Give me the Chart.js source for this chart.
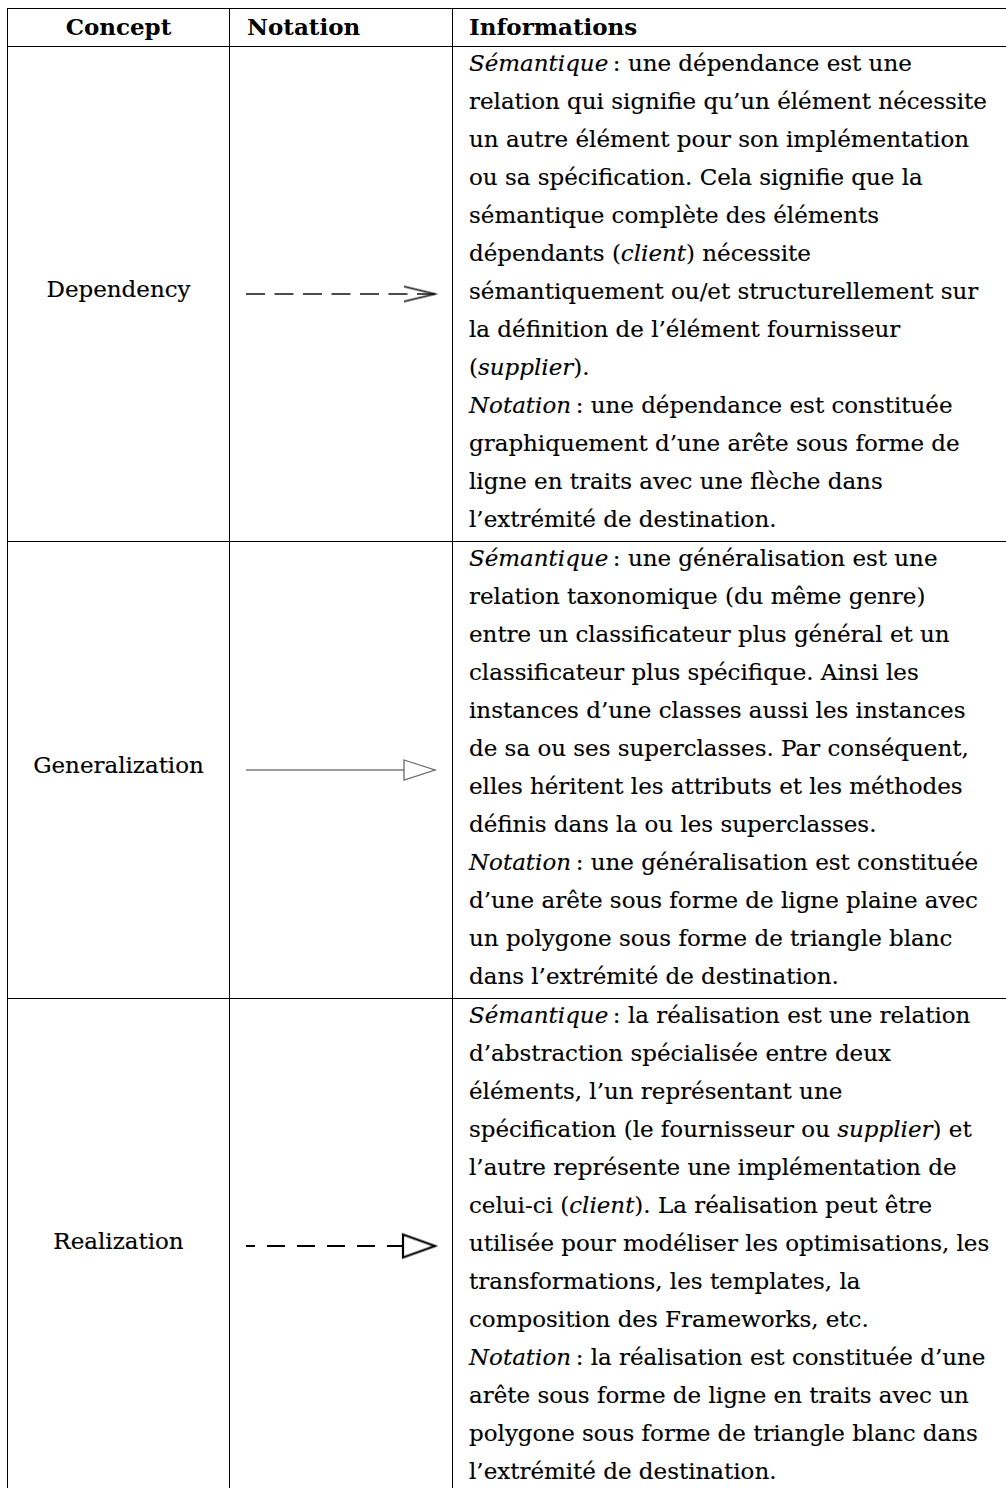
<!DOCTYPE html>
<html lang="fr"><head><meta charset="utf-8">
<title>Relations UML</title>
<script src="https://cdn.jsdelivr.net/npm/chart.js@4.4.1/dist/chart.umd.min.js"></script>
<style>
html,body{margin:0;padding:0;background:#fff;}
body{width:1006px;height:1488px;overflow:hidden;position:relative;font-family:"DejaVu Serif",serif;color:#000;}
.hl{position:absolute;height:1px;background:#000;left:7px;width:999px;}
.vl{position:absolute;width:1px;background:#000;top:8px;height:1480px;}
.txt{position:absolute;white-space:nowrap;line-height:38px;-webkit-text-stroke:0.15px #000;}
.hd{font-weight:bold;-webkit-text-stroke:0;}
.nc{position:absolute;}
.nc canvas{display:block;}
</style></head><body>
<script>
// ---- data ----
const headers = ['Concept', 'Notation', 'Informations'];
const concepts = ['Dependency', 'Generalization', 'Realization'];
const notationLine = ['dashed', 'solid', 'dashed'];
const notationHead = ['open', 'triangle', 'triangle'];
const arrowFrom = [0, 0, 0];
const arrowTo = [1, 1, 1];
const infoDependency = [
  '_Sémantique_\u2009: une dépendance est une',
  'relation qui signifie qu’un élément nécessite',
  'un autre élément pour son implémentation',
  'ou sa spécification. Cela signifie que la',
  'sémantique complète des éléments',
  'dépendants (_client_) nécessite',
  'sémantiquement ou/et structurellement sur',
  'la définition de l’élément fournisseur',
  '(_supplier_).',
  '_Notation_\u2009: une dépendance est constituée',
  'graphiquement d’une arête sous forme de',
  'ligne en traits avec une flèche dans',
  'l’extrémité de destination.'
];
const infoGeneralization = [
  '_Sémantique_\u2009: une généralisation est une',
  'relation taxonomique (du même genre)',
  'entre un classificateur plus général et un',
  'classificateur plus spécifique. Ainsi les',
  'instances d’une classes aussi les instances',
  'de sa ou ses superclasses. Par conséquent,',
  'elles héritent les attributs et les méthodes',
  'définis dans la ou les superclasses.',
  '_Notation_\u2009: une généralisation est constituée',
  'd’une arête sous forme de ligne plaine avec',
  'un polygone sous forme de triangle blanc',
  'dans l’extrémité de destination.'
];
const infoRealization = [
  '_Sémantique_\u2009: la réalisation est une relation',
  'd’abstraction spécialisée entre deux',
  'éléments, l’un représentant une',
  'spécification (le fournisseur ou _supplier_) et',
  'l’autre représente une implémentation de',
  'celui-ci (_client_). La réalisation peut être',
  'utilisée pour modéliser les optimisations, les',
  'transformations, les templates, la',
  'composition des Frameworks, etc.',
  '_Notation_\u2009: la réalisation est constituée d’une',
  'arête sous forme de ligne en traits avec un',
  'polygone sous forme de triangle blanc dans',
  'l’extrémité de destination.'
];
const infos = [infoDependency, infoGeneralization, infoRealization];

// ---- layout / style ----
const colX = [7, 229, 452];
const topY = 8, headerLineY = 46, lineH = 38;
const padL = 16, padR = 17;
const arrowStyles = [
  {color: '#111', width: 1.6, dash: [19, 9.5], dashOffset: 0, headColor: '#111', headWidth: 1.6, L: 31, H: 7.5},
  {color: '#7a7a7a', width: 1.4, dash: [], dashOffset: 0, headColor: '#6a6a6a', headWidth: 1.3, L: 31, H: 10},
  {color: '#000', width: 2.2, dash: [18, 12], dashOffset: 9, headColor: '#000', headWidth: 2.2, L: 32, H: 11.5}
];

// fit font size to reference line width
function measure(text, css) {
  const s = document.createElement('span');
  s.style.cssText = 'position:absolute;white-space:nowrap;visibility:hidden;' + css;
  s.textContent = text;
  document.body.appendChild(s);
  const w = s.getBoundingClientRect().width;
  s.remove();
  return w;
}
const w100 = measure('relation qui signifie qu’un élément nécessite', 'font-size:100px;font-family:"DejaVu Serif",serif;');
const fs = 100 * 518 / w100;
document.body.style.fontSize = fs + 'px';

function baselineIn(bold) {
  const d = document.createElement('div');
  d.className = 'txt' + (bold ? ' hd' : '');
  d.style.top = '0px'; d.style.left = '0px'; d.style.visibility = 'hidden';
  d.innerHTML = 'Xg<span style="display:inline-block;width:1px;height:0;vertical-align:baseline"></span>';
  document.body.appendChild(d);
  const off = d.querySelector('span').getBoundingClientRect().top - d.getBoundingClientRect().top;
  d.remove();
  return off;
}
const bl = baselineIn(false), blB = baselineIn(true);

function fmt(t) { return t.replace(/_([^_]+)_/g, '<em>$1</em>'); }
function addText(html, left, baseline, opts) {
  const d = document.createElement('div');
  d.className = 'txt' + (opts && opts.bold ? ' hd' : '');
  d.innerHTML = html;
  d.style.top = (baseline - (opts && opts.bold ? blB : bl)) + 'px';
  document.body.appendChild(d);
  if (opts && opts.center !== undefined) {
    const w = d.getBoundingClientRect().width;
    d.style.left = (opts.center - w / 2) + 'px';
  } else d.style.left = left + 'px';
  return d;
}
function hline(y) { const d = document.createElement('div'); d.className = 'hl'; d.style.top = y + 'px'; document.body.appendChild(d); }
function vline(x) { const d = document.createElement('div'); d.className = 'vl'; d.style.left = x + 'px'; document.body.appendChild(d); }

// grid
hline(topY); hline(headerLineY);
colX.forEach(vline);

// header
addText(headers[0], 0, 35, {bold: true, center: (colX[0] + colX[1] + 1) / 2});
addText(headers[1], colX[1] + 18, 35, {bold: true});
addText(headers[2], colX[2] + 17, 35, {bold: true});

function makeHead(kind, color, lw, L, H) {
  const pad = Math.ceil(lw * 4) + 2;
  const c = document.createElement('canvas');
  c.width = 2 * (L + pad); c.height = 2 * (H + pad);
  const g = c.getContext('2d');
  const cx = c.width / 2, cy = c.height / 2;
  g.lineWidth = lw; g.strokeStyle = color; g.lineJoin = 'miter';
  g.beginPath();
  g.moveTo(cx - L, cy - H); g.lineTo(cx, cy); g.lineTo(cx - L, cy + H);
  if (kind === 'triangle') { g.closePath(); g.fillStyle = '#fff'; g.fill(); }
  g.stroke();
  return c;
}

let rowStart = headerLineY + 1;
concepts.forEach((name, i) => {
  const lines = infos[i];
  const h = lines.length * lineH;
  const rowEnd = rowStart + h;
  hline(rowEnd);
  // informations
  lines.forEach((t, k) => addText(fmt(t), colX[2] + 17, rowStart + 24 + k * lineH));
  // concept
  addText(name, 0, (rowStart + rowEnd) / 2 + 3, {center: (colX[0] + colX[1] + 1) / 2});
  // notation chart
  const box = document.createElement('div');
  box.className = 'nc';
  box.style.left = (colX[1] + 1) + 'px';
  box.style.top = rowStart + 'px';
  const cv = document.createElement('canvas');
  cv.width = colX[2] - colX[1] - 1; cv.height = h;
  box.appendChild(cv);
  document.body.appendChild(box);
  const st = arrowStyles[i];
  const head = makeHead(notationHead[i], st.headColor, st.headWidth, st.L, st.H);
  new Chart(cv, {
    type: 'line',
    data: {
      datasets: [
        {data: [{x: arrowTo[i], y: 0}], showLine: false, pointStyle: head, pointRadius: 12, order: 0, clip: false},
        {data: [{x: arrowFrom[i], y: 0}, {x: arrowTo[i], y: 0}], borderColor: st.color, borderWidth: st.width,
         borderDash: notationLine[i] === 'dashed' ? st.dash : [], borderDashOffset: st.dashOffset,
         pointRadius: 0, order: 1, clip: false, fill: false}
      ]
    },
    options: {
      responsive: false, animation: false, devicePixelRatio: 1, events: [],
      plugins: {legend: {display: false}, tooltip: {enabled: false}},
      layout: {padding: {left: padL, right: padR, top: 0, bottom: 12}},
      scales: {
        x: {type: 'linear', min: 0, max: 1, display: false},
        y: {type: 'linear', min: -1, max: 1, display: false}
      }
    }
  });
  rowStart = rowEnd + 1;
});
</script>
</body></html>
